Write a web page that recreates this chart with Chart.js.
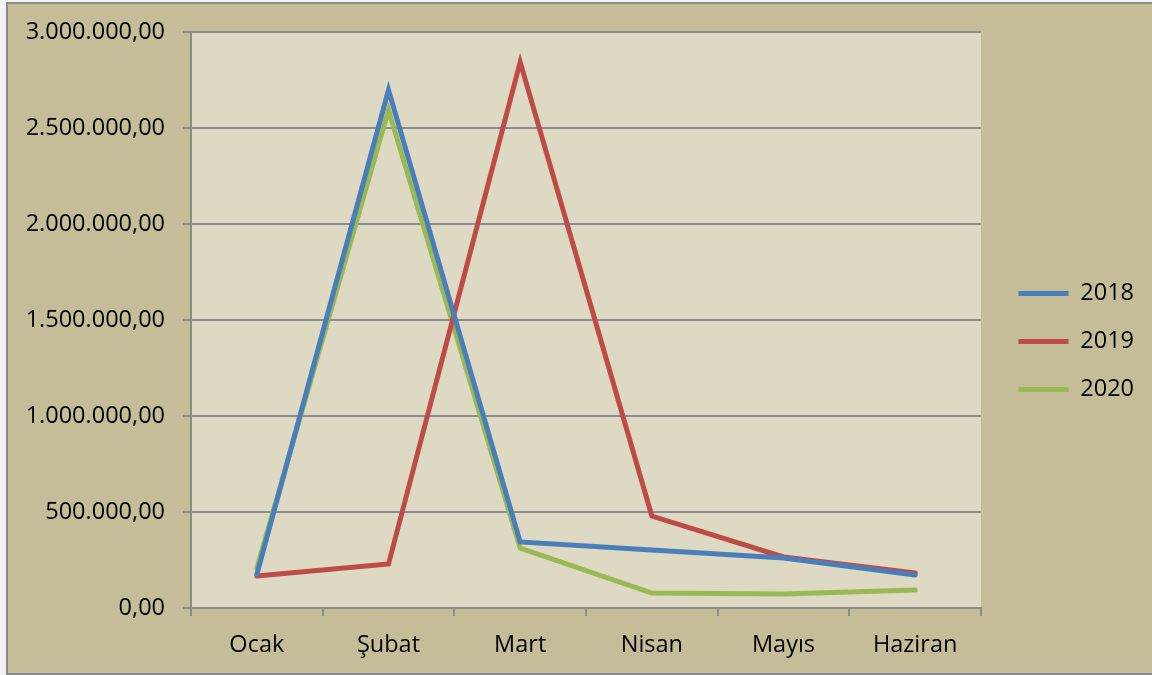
<!DOCTYPE html>
<html>
<head>
<meta charset="utf-8">
<script src="https://cdn.jsdelivr.net/npm/chart.js@4"></script>
<style>
  html, body { margin: 0; padding: 0; background: #f2f2f2; }
  #wrap { width: 1152px; height: 675px; }
</style>
</head>
<body>
<div id="wrap"><canvas id="salesChart" width="1152" height="675"></canvas></div>
<script>
// Veriler
const months = ['Ocak', 'Şubat', 'Mart', 'Nisan', 'Mayıs', 'Haziran'];
const sales2018 = [175000, 2698000, 344000, 302000, 260000, 172000];
const sales2019 = [167000, 229000, 2844000, 479000, 266000, 182000];
const sales2020 = [208000, 2594000, 312000, 78000, 73000, 94000];
const yTicks = [0, 500000, 1000000, 1500000, 2000000, 2500000, 3000000];

const FONT = "'Open Sans', 'Liberation Sans', sans-serif";
const FONT_SIZE = 23.5;
const GRID = '#8c8c8c';

// Türkçe sayı biçimi: 2.500.000,00
function formatTr(v) {
    return v.toLocaleString('tr-TR', { minimumFractionDigits: 2, maximumFractionDigits: 2 });
}

// Arka planlar ve dış çerçeve
const backgroundPlugin = {
    id: 'backgrounds',
    beforeDraw(chart) {
        const { ctx, chartArea } = chart;
        ctx.save();
        ctx.fillStyle = '#C4BD97';
        ctx.fillRect(7, 3, chart.width - 7, 671);
        ctx.strokeStyle = '#8a8a8a';
        ctx.lineWidth = 2;
        ctx.beginPath();
        ctx.moveTo(chart.width + 2, 3);
        ctx.lineTo(7, 3);
        ctx.lineTo(7, 674);
        ctx.lineTo(chart.width + 2, 674);
        ctx.stroke();
        ctx.fillStyle = '#DDD9C3';
        ctx.fillRect(chartArea.left, chartArea.top, chartArea.right - chartArea.left, chartArea.bottom - chartArea.top);
        ctx.restore();
    }
};

// Lejantı biraz kaydır
const legendNudge = {
    id: 'legendNudge',
    afterLayout(chart) {
        const lg = chart.legend;
        lg.left += 13; lg.right += 13;
        lg.top -= 12; lg.bottom -= 12;
    }
};

function makeSet(label, data, color) {
    return {
        label: label,
        data: data,
        borderColor: color,
        backgroundColor: color,
        borderWidth: 5,
        borderCapStyle: 'round',
        borderJoinStyle: 'miter',
        pointRadius: 0,
        pointHoverRadius: 0,
        tension: 0
    };
}

function initializeChart() {
    const ctx = document.getElementById('salesChart').getContext('2d');
    new Chart(ctx, {
        type: 'line',
        data: {
            labels: months,
            datasets: [
                makeSet('2018', sales2018, '#4A7EBB'),
                makeSet('2019', sales2019, '#BE4B48'),
                makeSet('2020', sales2020, '#98B954')
            ]
        },
        options: {
            responsive: false,
            animation: false,
            layout: { padding: { top: 32, left: 7, bottom: 0, right: 21 } },
            plugins: {
                tooltip: { enabled: false },
                legend: {
                    position: 'right',
                    labels: {
                        usePointStyle: true,
                        pointStyle: 'line',
                        pointStyleWidth: 50,
                        padding: 24.5,
                        color: '#000',
                        font: { family: FONT, size: FONT_SIZE }
                    }
                }
            },
            scales: {
                x: {
                    offset: true,
                    grid: { offset: true, drawOnChartArea: false, color: GRID, lineWidth: 2, tickLength: 8 },
                    border: { color: GRID, width: 2 },
                    ticks: { color: '#000', padding: 15, maxRotation: 0, font: { family: FONT, size: FONT_SIZE } },
                    afterFit(scale) { scale.height = 675 - 608; }
                },
                y: {
                    min: 0,
                    max: 3000000,
                    afterBuildTicks(scale) { scale.ticks = yTicks.map(v => ({ value: v })); },
                    grid: { color: GRID, lineWidth: 2, tickLength: 8 },
                    border: { color: GRID, width: 2 },
                    ticks: {
                        color: '#000',
                        padding: 18,
                        font: { family: FONT, size: FONT_SIZE },
                        callback: v => formatTr(v)
                    },
                    afterFit(scale) { scale.width = 191 - 7; }
                }
            }
        },
        plugins: [backgroundPlugin, legendNudge]
    });
}

document.addEventListener('DOMContentLoaded', initializeChart);
</script>
</body>
</html>
